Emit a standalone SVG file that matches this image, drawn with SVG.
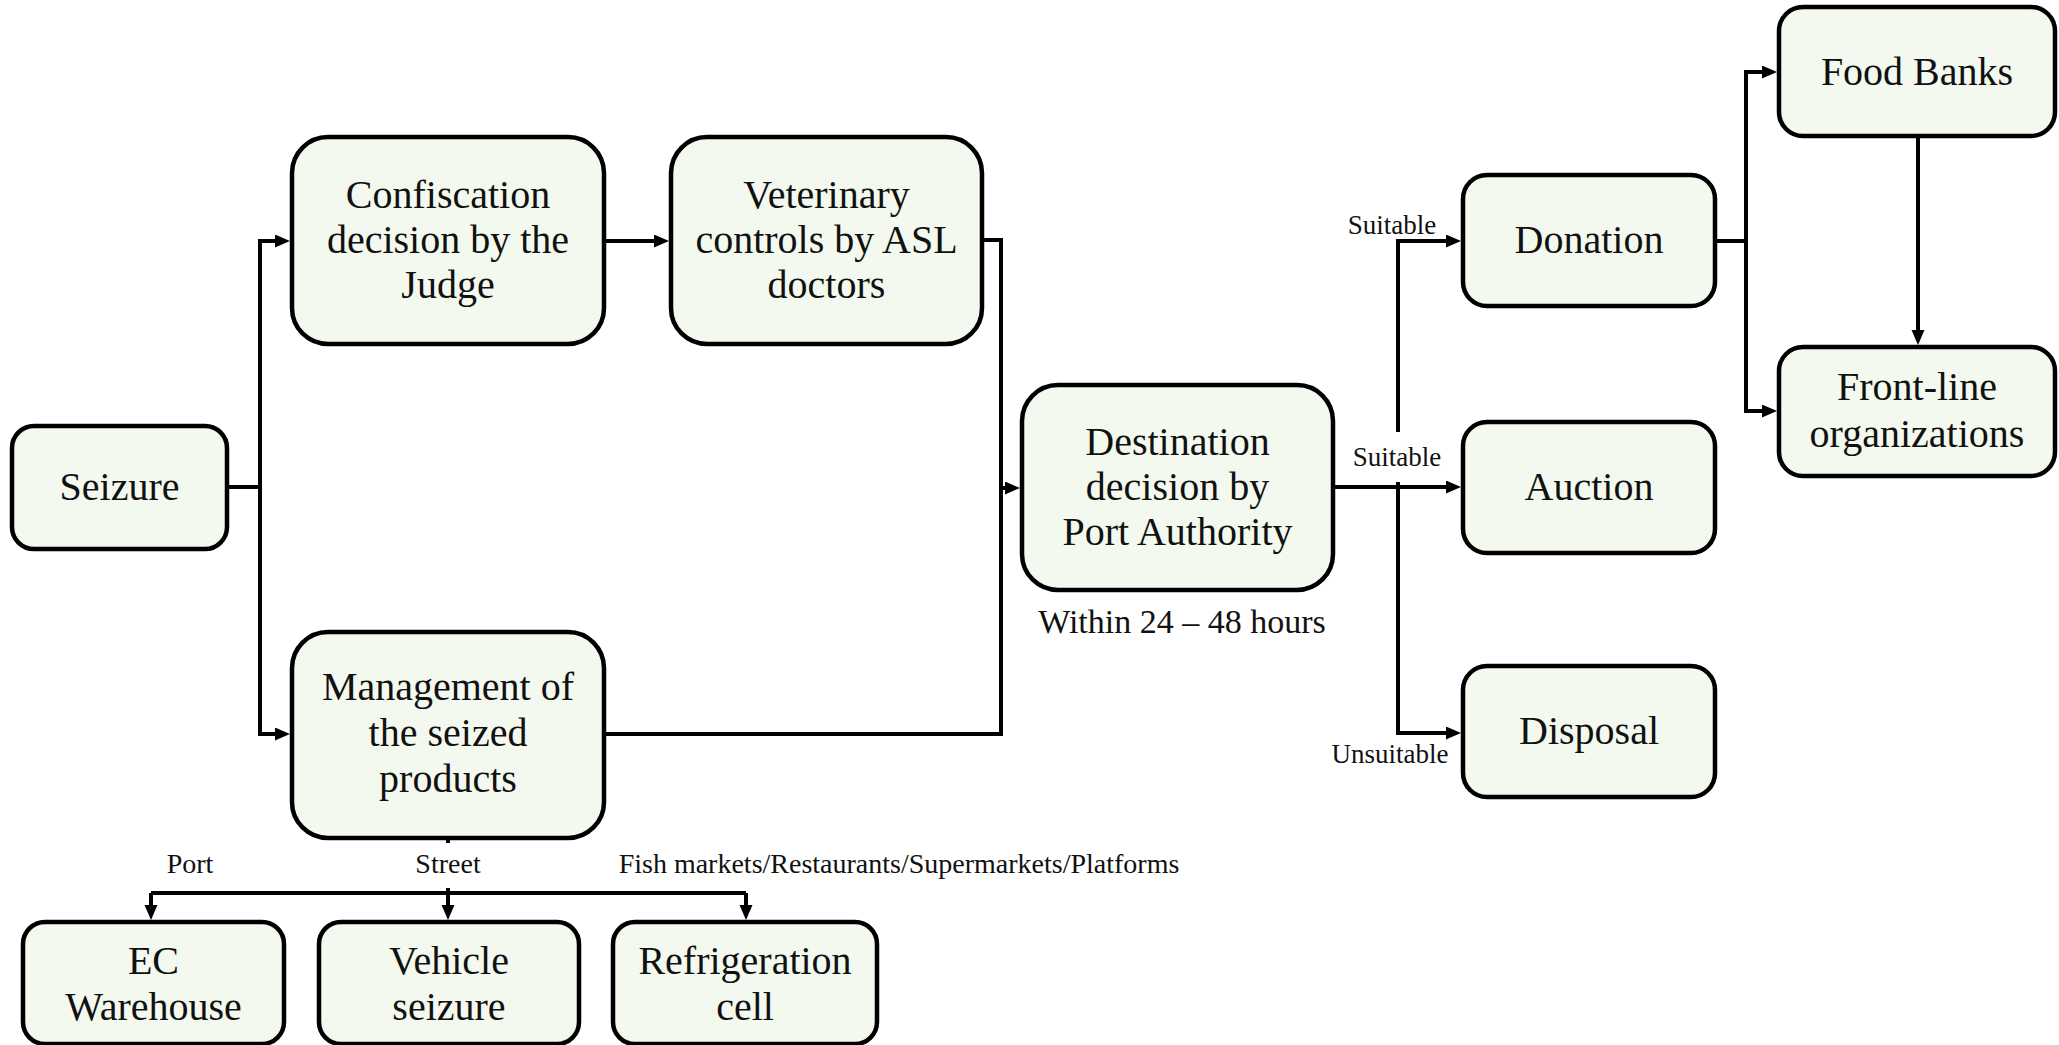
<svg xmlns="http://www.w3.org/2000/svg" width="2059" height="1045" viewBox="0 0 2059 1045">
<style>
.box{fill:#F3F9EE;stroke:#000;stroke-width:4.5}
.t{font-family:"Liberation Serif","Times New Roman",serif;font-size:40px;fill:#111;text-anchor:middle}
.lbl{font-family:"Liberation Serif","Times New Roman",serif;font-size:27px;fill:#111;text-anchor:middle}
.lbl2{font-family:"Liberation Serif","Times New Roman",serif;font-size:28px;fill:#111;text-anchor:middle}
.note{font-family:"Liberation Serif","Times New Roman",serif;font-size:34px;fill:#111;text-anchor:middle}
.c{fill:none;stroke:#000;stroke-width:4}
.a{fill:none;stroke:#000;stroke-width:4;marker-end:url(#ah)}
</style>
<defs>
<marker id="ah" markerUnits="userSpaceOnUse" markerWidth="16" markerHeight="14" refX="8" refY="6.5" orient="auto">
<path d="M0,0 L15,6.5 L0,13 Z" fill="#000"/>
</marker>
</defs>
<rect width="2059" height="1045" fill="#fff"/>
<g id="connectors">
<path class="c" d="M227,487 H260"/>
<path class="a" d="M260,487 V241 H283"/>
<path class="a" d="M260,487 V734 H283"/>
<path class="a" d="M604,241 H662"/>
<path class="c" d="M982,240 H1001 V488"/>
<path class="c" d="M604,734 H1001 V488"/>
<path class="a" d="M1001,488 H1013"/>
<path class="a" d="M1333,487 H1454"/>
<path class="a" d="M1398,432 V241 H1454"/>
<path class="a" d="M1398,482 V733 H1454"/>
<path class="c" d="M1715,241 H1746"/>
<path class="a" d="M1746,241 V72 H1770"/>
<path class="a" d="M1746,241 V411 H1770"/>
<path class="a" d="M1918,136 V338"/>
<path class="c" d="M448,838 V843"/>
<path class="c" d="M151,893 H746"/>
<path class="a" d="M448,888 V913"/>
<path class="a" d="M151,893 V913"/>
<path class="a" d="M746,893 V913"/>
</g>
<g id="labels">
<text class="lbl" x="1392" y="234">Suitable</text>
<text class="lbl" x="1397" y="466">Suitable</text>
<text class="lbl" x="1390" y="763">Unsuitable</text>
<text class="lbl2" x="190" y="873">Port</text>
<text class="lbl2" x="448" y="873">Street</text>
<text class="lbl2" x="899" y="873">Fish markets/Restaurants/Supermarkets/Platforms</text>
<text class="note" x="1182" y="633">Within 24 – 48 hours</text>
</g>
<g id="seizure"><rect class="box" x="12" y="426" width="215" height="123" rx="22"/><text class="t" x="119.5" y="500">Seizure</text></g>
<g id="confiscation"><rect class="box" x="292" y="137" width="312" height="207" rx="36"/><text class="t" x="448" y="208">Confiscation</text><text class="t" x="448" y="253">decision by the</text><text class="t" x="448" y="298">Judge</text></g>
<g id="veterinary"><rect class="box" x="671" y="137" width="311" height="207" rx="36"/><text class="t" x="826.5" y="208">Veterinary</text><text class="t" x="826.5" y="253">controls by ASL</text><text class="t" x="826.5" y="298">doctors</text></g>
<g id="destination"><rect class="box" x="1022" y="385" width="311" height="205" rx="36"/><text class="t" x="1177.5" y="455">Destination</text><text class="t" x="1177.5" y="500">decision by</text><text class="t" x="1177.5" y="545">Port Authority</text></g>
<g id="management"><rect class="box" x="292" y="632" width="312" height="206" rx="36"/><text class="t" x="448" y="700">Management of</text><text class="t" x="448" y="746">the seized</text><text class="t" x="448" y="792">products</text></g>
<g id="donation"><rect class="box" x="1463" y="175" width="252" height="131" rx="24"/><text class="t" x="1589" y="253">Donation</text></g>
<g id="auction"><rect class="box" x="1463" y="422" width="252" height="131" rx="24"/><text class="t" x="1589" y="500">Auction</text></g>
<g id="disposal"><rect class="box" x="1463" y="666" width="252" height="131" rx="24"/><text class="t" x="1589" y="744">Disposal</text></g>
<g id="food-banks"><rect class="box" x="1779" y="7" width="276" height="129" rx="24"/><text class="t" x="1917" y="85">Food Banks</text></g>
<g id="front-line"><rect class="box" x="1779" y="347" width="276" height="129" rx="24"/><text class="t" x="1917" y="400">Front-line</text><text class="t" x="1917" y="447">organizations</text></g>
<g id="ec-warehouse"><rect class="box" x="23" y="922" width="261" height="122" rx="22"/><text class="t" x="153.5" y="974">EC</text><text class="t" x="153.5" y="1020">Warehouse</text></g>
<g id="vehicle-seizure"><rect class="box" x="319" y="922" width="260" height="122" rx="22"/><text class="t" x="449" y="974">Vehicle</text><text class="t" x="449" y="1020">seizure</text></g>
<g id="refrigeration-cell"><rect class="box" x="613" y="922" width="264" height="122" rx="22"/><text class="t" x="745" y="974">Refrigeration</text><text class="t" x="745" y="1020">cell</text></g>
</svg>
